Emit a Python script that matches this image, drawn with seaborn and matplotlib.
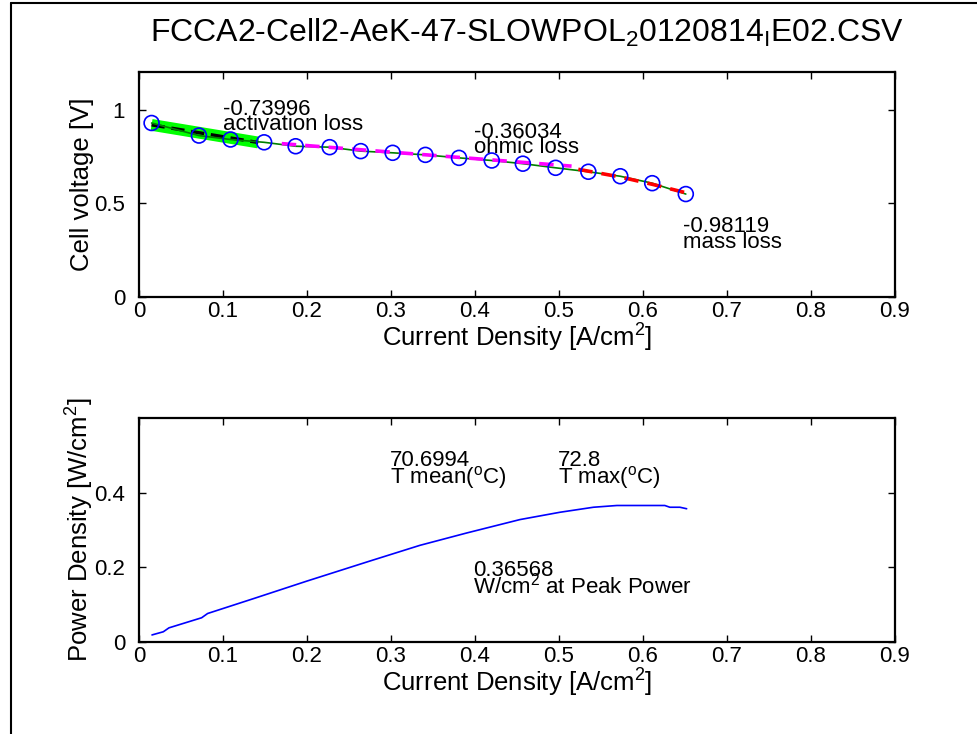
import numpy as np
import pandas as pd
import matplotlib
matplotlib.use("Agg")
import matplotlib.pyplot as plt
import seaborn as sns
from matplotlib.lines import Line2D

# ---------------- data ----------------
current_meas = [0.015, 0.0714, 0.109, 0.149, 0.1865, 0.227, 0.264, 0.302, 0.341,
                0.381, 0.42, 0.457, 0.496, 0.535, 0.573, 0.611, 0.651]
voltage_meas = [0.928, 0.861, 0.840, 0.825, 0.804, 0.799, 0.778, 0.769, 0.758,
                0.742, 0.728, 0.711, 0.689, 0.668, 0.644, 0.607, 0.549]

act_i = [0.015, 0.142]
act_v = [0.918, 0.824]
ohm_i = [0.170, 0.515]
ohm_v = [0.818, 0.698]
mass_i = [0.523, 0.573, 0.612, 0.651]
mass_v = [0.681, 0.640, 0.600, 0.556]

power_i = [0.0155, 0.029, 0.0357, 0.0746, 0.0817, 0.136, 0.1996, 0.275, 0.3345,
           0.39, 0.4536, 0.501, 0.541, 0.569, 0.626, 0.632, 0.644, 0.652]
power_p = [0.019, 0.0275, 0.038, 0.065, 0.0764, 0.116, 0.163, 0.217, 0.259,
           0.292, 0.328, 0.3475, 0.361, 0.3657, 0.3657, 0.361, 0.361, 0.357]

x_ticks = [0, 0.1, 0.2, 0.3, 0.4, 0.5, 0.6, 0.7, 0.8, 0.9]
v_ticks = [0, 0.5, 1]
p_ticks = [0, 0.2, 0.4]

title = "FCCA2-Cell2-AeK-47-SLOWPOL$_2$0120814$_I$E02.CSV"
act_label = "-0.73996\nactivation loss"
ohm_label = "-0.36034\nohmic loss"
mass_label = "-0.98119\nmass loss"
tmean_label = "70.6994\nT mean($^{\\mathrm{o}}$C)"
tmax_label = "72.8\nT max($^{\\mathrm{o}}$C)"
peak_label = "0.36568\nW/cm$^2$ at Peak Power"

# ---------------- style ----------------
sns.set_theme(style="white")
plt.rcParams["font.family"] = ["Liberation Sans", "DejaVu Sans"]
plt.rcParams["mathtext.fontset"] = "custom"
plt.rcParams["mathtext.rm"] = "Liberation Sans"
plt.rcParams["mathtext.it"] = "Liberation Sans"
plt.rcParams["mathtext.bf"] = "Liberation Sans:bold"
plt.rcParams["text.color"] = "black"
plt.rcParams["axes.labelcolor"] = "black"
plt.rcParams["xtick.color"] = "black"
plt.rcParams["ytick.color"] = "black"

FS = 16
LFS = 18.5
LS = 0.64
fig = plt.figure(figsize=(9.78, 7.34), dpi=100)
ax1 = fig.add_axes([0.1421, 0.5954, 0.7730, 0.3065])
ax2 = fig.add_axes([0.1421, 0.1253, 0.7730, 0.3052])

meas_df = pd.DataFrame({"i": current_meas, "v": voltage_meas})
act_df = pd.DataFrame({"i": act_i, "v": act_v})
ohm_df = pd.DataFrame({"i": ohm_i, "v": ohm_v})
mass_df = pd.DataFrame({"i": mass_i, "v": mass_v})
pow_df = pd.DataFrame({"i": power_i, "p": power_p})

# top panel
sns.lineplot(data=act_df, x="i", y="v", ax=ax1, color="#00ff00", lw=8.5,
             solid_capstyle="butt", sort=False)
sns.lineplot(data=act_df, x="i", y="v", ax=ax1, color="black", lw=2.4,
             linestyle=(0, (4, 2)), sort=False)
sns.lineplot(data=meas_df, x="i", y="v", ax=ax1, color=(0, 0.5, 0), lw=1.2, sort=False)
sns.lineplot(data=ohm_df, x="i", y="v", ax=ax1, color="#ff00ff", lw=2.6,
             linestyle=(0, (4, 2.5)), sort=False)
sns.lineplot(data=mass_df, x="i", y="v", ax=ax1, color="#ff0000", lw=2.6,
             linestyle=(0, (4, 2.5)), sort=False)
sns.scatterplot(data=meas_df, x="i", y="v", ax=ax1, marker="o", s=115,
                facecolor="none", edgecolor="#0000ff", linewidth=1.2, zorder=5)

ax1.text(0.1, 0.96, act_label, fontsize=FS, va="center", ha="left", linespacing=LS)
ax1.text(0.399, 0.836, ohm_label, fontsize=FS, va="center", ha="left", linespacing=LS)
ax1.text(0.648, 0.333, mass_label, fontsize=FS, va="center", ha="left", linespacing=LS)

ax1.set_xlim(0, 0.9)
ax1.set_ylim(0, 1.2)
ax1.set_xticks(x_ticks)
ax1.set_xticklabels([f"{t:g}" for t in x_ticks])
ax1.set_yticks(v_ticks)
ax1.set_yticklabels([f"{t:g}" for t in v_ticks])
ax1.set_xlabel("Current Density [A/cm$^2$]", fontsize=LFS, labelpad=0)
ax1.set_ylabel("Cell voltage [V]", fontsize=LFS, labelpad=0)
ax1.set_title(title, fontsize=23, pad=22, x=0.513)

# bottom panel
sns.lineplot(data=pow_df, x="i", y="p", ax=ax2, color="#0000ff", lw=1.2, sort=False)
ax2.text(0.299, 0.459, tmean_label, fontsize=FS, va="center", ha="left", linespacing=LS)
ax2.text(0.499, 0.459, tmax_label, fontsize=FS, va="center", ha="left", linespacing=LS)
ax2.text(0.398, 0.168, peak_label, fontsize=FS, va="center", ha="left", linespacing=LS)
ax2.set_xlim(0, 0.9)
ax2.set_ylim(0, 0.6)
ax2.set_xticks(x_ticks)
ax2.set_xticklabels([f"{t:g}" for t in x_ticks])
ax2.set_yticks(p_ticks)
ax2.set_yticklabels([f"{t:g}" for t in p_ticks])
ax2.set_xlabel("Current Density [A/cm$^2$]", fontsize=LFS, labelpad=0)
ax2.set_ylabel("Power Density [W/cm$^2$]", fontsize=LFS, labelpad=-1)

for ax in (ax1, ax2):
    for sp in ax.spines.values():
        sp.set_visible(True)
        sp.set_color("black")
        sp.set_linewidth(1.6)
    ax.tick_params(direction="in", length=5, width=1, top=True, right=True,
                   bottom=True, left=True, labelsize=FS, colors="black")
    ax.tick_params(axis="x", pad=3)
    ax.tick_params(axis="y", pad=10)
    ax.grid(False)
    ax.set_facecolor("white")

# figure border (top and left edges)
fig.add_artist(Line2D([0.0112, 0.0112], [0, 0.996], transform=fig.transFigure,
                      color="black", lw=1.5))
fig.add_artist(Line2D([0.0112, 1.0], [0.996, 0.996], transform=fig.transFigure,
                      color="black", lw=1.5))

fig.savefig("out.png", dpi=100, facecolor="white")
